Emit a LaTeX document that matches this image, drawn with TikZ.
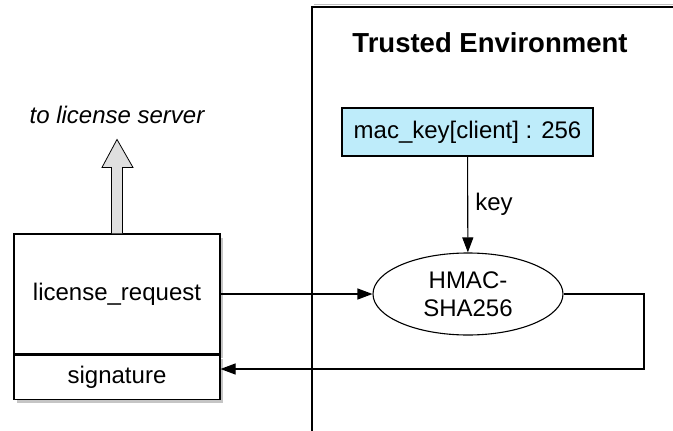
\documentclass[tikz,border=0pt]{standalone}
\usepackage{fontspec}
\setmainfont{Liberation Sans}
\usetikzlibrary{positioning,shapes.geometric,shadows,arrows.meta}
\definecolor{keyblue}{RGB}{190,236,250}
\begin{document}
\begin{tikzpicture}[x=1pt,y=-1pt,>={Triangle[length=15pt,width=11pt]},line width=1.1pt,
  every node/.style={font=\fontsize{24}{28}\selectfont,inner sep=0pt},
  msgbox/.style={draw,fill=white,minimum width=206pt,
    drop shadow={shadow xshift=3pt,shadow yshift=-4pt,opacity=.45}}]
\useasboundingbox (0,0) rectangle (673,431);
\clip (0,0) rectangle (673,431);
\fill[white] (0,0) rectangle (673,431);
% trusted environment
\draw[gray!50,line width=1pt] (314,4)--(680,4);
\draw (312,7) rectangle (690,450);
\node[font=\bfseries\fontsize{27.5}{30}\selectfont] (title) at (490,43) {Trusted Environment};
\node[draw,fill=keyblue,minimum width=251pt,minimum height=48pt] (mackey) at (467.5,132) {mac\_key[client] : 256};
\node[draw,ellipse,minimum width=190pt,minimum height=82pt,align=center] (hmac) at (468,294) {HMAC-\\SHA256};
% request message
\node[msgbox,minimum height=120pt] (req) at (117,294) {license\_request};
\node[msgbox,minimum height=44pt,below=0pt of req] (sig) {signature};
\draw[fill=gray!25,line width=.8pt](req.north)++(-5.5,0)--++(0,-66)--++(-9.5,0)--++(15,-28)--++(16,28)--++(-10.5,0)--++(0,66);
\node[font=\itshape\fontsize{24}{28}\selectfont] (server) at (117,115) {to license server};
% connectors
\coordinate (turn) at (644,369);
\draw[->](mackey)--node[right=7pt](keylbl){key}(hmac);
\draw[->](req.east)--(hmac.west);
\draw[->](hmac.east)-|(turn)--(turn-|sig.east);
\end{tikzpicture}
\end{document}
